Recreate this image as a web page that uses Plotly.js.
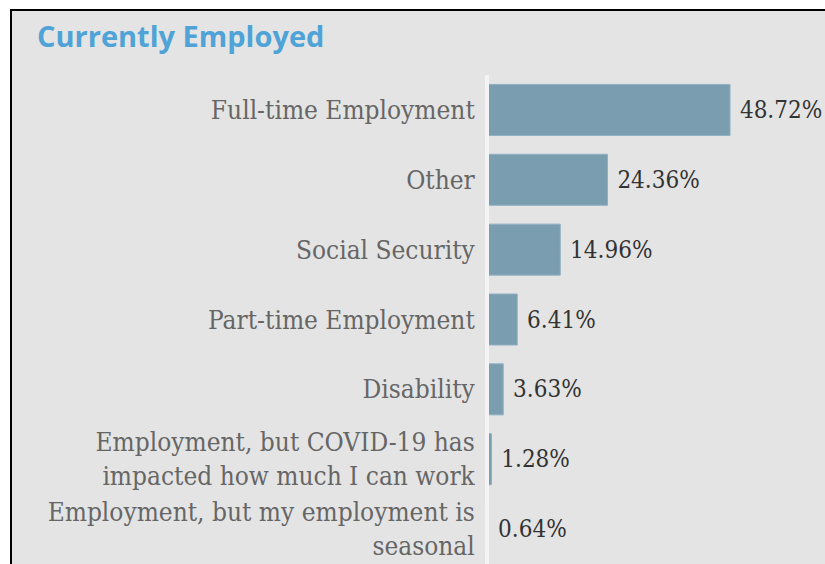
<!DOCTYPE html>
<html>
<head>
<meta charset="utf-8">
<script src="https://cdn.plot.ly/plotly-3.0.1.min.js"></script>
<style>
  html, body { margin: 0; padding: 0; background: #ffffff; }
  #frame { position: absolute; left: 10px; top: 9px; width: 815px; height: 555px;
           background: #e4e4e4; border-left: 2px solid #000; border-top: 2px solid #000; box-sizing: border-box; }
  #chart { position: absolute; left: 0; top: 0; width: 825px; height: 564px; }
</style>
</head>
<body>
<div id="frame"></div>
<div id="chart"></div>
<script>
const categories = [
  "Full-time Employment",
  "Other",
  "Social Security",
  "Part-time Employment",
  "Disability",
  "Employment, but COVID-19 has<br>impacted how much I can work",
  "Employment, but my employment is<br>seasonal"
];
const values = [48.72, 24.36, 14.96, 6.41, 3.63, 1.28, 0.64];
const chartTitle = "Currently Employed";

const trace = {
  type: "bar",
  orientation: "h",
  y: categories,
  x: values,
  marker: { color: "#7b9db0", line: { color: "#8fb0c2", width: 1 } },
  width: 0.73,
  text: values.map(v => v.toFixed(2) + "%"),
  texttemplate: " %{text}",
  textposition: "outside",
  constraintext: "none",
  cliponaxis: false,
  textfont: { family: "DejaVu Serif Condensed, DejaVu Serif, serif", size: 24, color: "#333333" },
  hoverinfo: "none"
};

const layout = {
  width: 825,
  height: 564,
  margin: { l: 485, r: 0, t: 75, b: 0 },
  paper_bgcolor: "rgba(0,0,0,0)",
  plot_bgcolor: "rgba(0,0,0,0)",
  showlegend: false,
  title: {
    text: chartTitle,
    xref: "container", yref: "container",
    x: 37 / 825, xanchor: "left",
    y: 1 - 27 / 564, yanchor: "top",
    font: { family: "Open Sans, sans-serif", size: 29, color: "#4fa3d6", weight: "bold" }
  },
  xaxis: {
    range: [0, 67.6],
    showgrid: false, zeroline: false, showticklabels: false, showline: false, fixedrange: true
  },
  yaxis: {
    autorange: "reversed",
    showgrid: false, zeroline: false, showline: false,
    ticks: "outside", ticklen: 4, tickcolor: "rgba(0,0,0,0)",
    tickfont: { family: "DejaVu Serif Condensed, DejaVu Serif, serif", size: 26, color: "#666666" },
    fixedrange: true
  },
  shapes: [{
    type: "line", layer: "above",
    xref: "x", yref: "paper",
    x0: 0.4, x1: 0.4, y0: 0, y1: 1,
    line: { color: "#f4f4f4", width: 4 }
  }]
};

Plotly.newPlot("chart", [trace], layout, { displayModeBar: false, staticPlot: true });
</script>
</body>
</html>
